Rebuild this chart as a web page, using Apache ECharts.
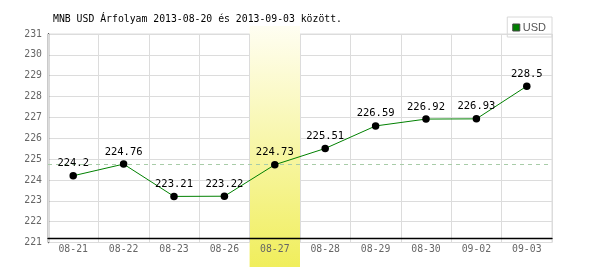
<!DOCTYPE html>
<html>
<head>
<meta charset="utf-8">
<script src="https://cdn.jsdelivr.net/npm/echarts@6/dist/echarts.min.js"></script>
<style>html,body{margin:0;padding:0;background:#fff}#c{width:600px;height:270px}</style>
</head>
<body>
<div id="c"></div>
<script>
const titleText = 'MNB USD Árfolyam 2013-08-20 és 2013-09-03 között.';
const seriesName = 'USD';
const categories = ['08-21','08-22','08-23','08-26','08-27','08-28','08-29','08-30','09-02','09-03'];
const usdValues = [224.2, 224.76, 223.21, 223.22, 224.73, 225.51, 226.59, 226.92, 226.93, 228.5];
const highlightDay = '08-27';
const referenceValue = 224.73;
const yMin = 221, yMax = 231, yStep = 1;

const mono = 'DejaVu Sans Mono';
const chart = echarts.init(document.getElementById('c'), null, {renderer: 'canvas'});
chart.setOption({
  animation: false,
  title: {
    text: titleText, left: 48, top: 9,
    textStyle: {fontFamily: mono, fontSize: 9.8, fontWeight: 'normal', color: '#000'}
  },
  legend: {
    right: 48, top: 17, orient: 'vertical',
    borderColor: '#d8d8d8', borderWidth: 1, padding: [5, 6, 4, 5],
    itemWidth: 7, itemHeight: 7, itemGap: 4,
    textStyle: {fontFamily: 'Liberation Sans', fontSize: 11, color: '#555', padding: [0,0,0,-2]},
    data: [{name: seriesName, icon: 'rect', itemStyle: {color: '#008000', borderColor: '#444', borderWidth: 1}}]
  },
  grid: [
    {left: 48, right: 48, top: 34, bottom: 27.5, show: true, borderColor: '#dcdcdc', borderWidth: 1},
    {left: 48, right: 48, top: 26, bottom: 3}
  ],
  xAxis: [
    {type: 'category', gridIndex: 0, data: categories, boundaryGap: true, z: 3,
     axisLine: {show: false}, axisTick: {show: false},
     axisLabel: {fontFamily: mono, fontSize: 9.8, color: '#666', margin: 2},
     splitLine: {show: true, lineStyle: {color: '#dcdcdc', width: 1}}},
    {type: 'category', gridIndex: 0, data: categories, position: 'bottom', offset: -4.5, z: 10,
     axisLine: {show: true, lineStyle: {color: '#000', width: 1.3}}, axisTick: {show: false},
     axisLabel: {show: false}, splitLine: {show: false}},
    {type: 'category', gridIndex: 1, data: categories, show: false, boundaryGap: true}
  ],
  yAxis: [
    {type: 'value', gridIndex: 0, min: yMin, max: yMax, interval: yStep,
     axisLine: {show: true, lineStyle: {color: '#000', width: 1.3}}, axisTick: {show: false},
     axisLabel: {fontFamily: mono, fontSize: 9.8, color: '#666', margin: 6},
     splitLine: {show: true, lineStyle: {color: '#dcdcdc', width: 1}}},
    {type: 'value', gridIndex: 1, min: 0, max: 1, show: false, splitLine: {show: false}}
  ],
  series: [
    {type: 'line', xAxisIndex: 0, yAxisIndex: 0, data: [], z: 1, silent: true,
     markLine: {silent: true, symbol: 'none', label: {show: false},
       lineStyle: {color: '#a8cca8', type: [4, 4], width: 1},
       data: [{yAxis: referenceValue}]}},
    {type: 'bar', xAxisIndex: 2, yAxisIndex: 1, z: 2, barWidth: '100%', silent: true,
     data: categories.map(c => c === highlightDay ? 1 : '-'),
     itemStyle: {color: new echarts.graphic.LinearGradient(0, 0, 0, 1, [
       {offset: 0, color: '#fffef2'}, {offset: 1, color: '#f0ee5c'}])}},
    {name: seriesName, type: 'line', xAxisIndex: 0, yAxisIndex: 0, z: 5,
     data: usdValues,
     lineStyle: {color: '#008000', width: 1},
     itemStyle: {color: '#000'},
     symbol: 'circle', symbolSize: 7.5, showAllSymbol: true,
     label: {show: true, position: 'top', distance: 3, color: '#000',
       fontFamily: mono, fontSize: 10.5}}
  ]
});
</script>
</body>
</html>
